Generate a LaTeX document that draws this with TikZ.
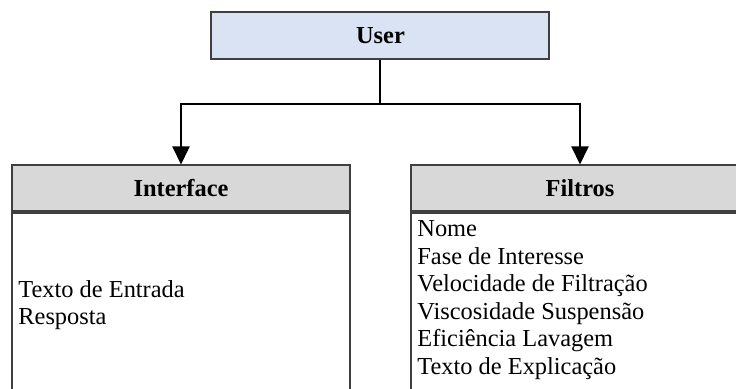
\documentclass[tikz,border=0pt]{standalone}
\usepackage{fontspec}
\setmainfont{Liberation Serif}
\usetikzlibrary{arrows.meta}
\definecolor{userfill}{HTML}{DAE3F3}
\definecolor{headfill}{HTML}{D8D8D8}
\definecolor{boxline}{HTML}{3F3F3F}
\tikzset{
  box/.style={draw=boxline, line width=1pt, rectangle, inner sep=0pt},
  titlebox/.style={box, minimum width=169pt, font=\fontsize{12.2}{14}\selectfont\bfseries},
  bodybox/.style={box, fill=white, minimum width=169pt, minimum height=110pt, anchor=north},
  item/.style={anchor=base west, inner sep=0pt, font=\fontsize{12.2}{14}\selectfont},
  link/.style={draw=black, line width=1pt, -{Triangle[width=8.5pt,length=9pt]}}
}
\begin{document}
\begin{tikzpicture}[x=0.5pt, y=-0.5pt]
  \useasboundingbox (0,0) rectangle (736,389);
  \clip (0,0) rectangle (736,389);

  % top entity
  \node[titlebox, fill=userfill, minimum height=23.5pt] (user) at (380.5,35.5) {User};

  % left table
  \node[titlebox, fill=headfill, minimum height=22.75pt] (iface) at (181,188.25) {Interface};
  \node[bodybox] (ifacebody) at (iface.south) {};
  \node[item] (i1) at (18,297.5) {Texto de Entrada};
  \node[item] (i2) at (18,325) {Resposta};

  % right table
  \node[titlebox, fill=headfill, minimum height=22.75pt] (filt) at (580,188.25) {Filtros};
  \node[bodybox] (filtbody) at (filt.south) {};
  \foreach \t [count=\k] in {Nome, Fase de Interesse, Velocidade de Filtração,
      Viscosidade Suspensão, Eficiência Lavagem, Texto de Explicação}
    \node[item] (f\k) at (417,236.8+27.5*\k-27.5) {\t};

  % connectors
  \coordinate (split) at (380.5,104);
  \draw[line width=1pt] (user.south) -- (split);
  \draw[link] (split) -| (iface.north);
  \draw[link] (split) -| (filt.north);
\end{tikzpicture}
\end{document}
